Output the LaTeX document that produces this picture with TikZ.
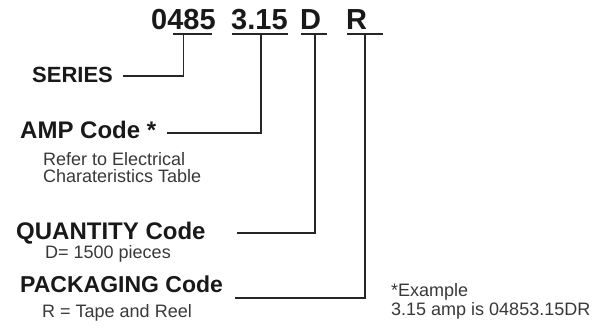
\documentclass[tikz,border=0pt]{standalone}
\usepackage{fontspec}
\setmainfont{Liberation Sans}
\begin{document}
\begin{tikzpicture}[x=1pt,y=-1pt,
  code/.style={font=\fontsize{29}{31}\selectfont\bfseries, inner sep=0pt, anchor=base west, text=black!90},
  head/.style={font=\fontsize{23}{26}\selectfont\bfseries, inner sep=0pt, anchor=base west, text=black!90},
  note/.style={font=\fontsize{18}{18}\selectfont, inner sep=0pt, anchor=base west, text=black!78},
  link/.style={draw=black!85, line width=1.2pt},
]
\useasboundingbox (0,0) rectangle (610,333);
% part number
\node[code] (n0485) at (151,29) {0485};
\node[code] (n315)  at (231,29) {3.15};
\node[code] (nD)    at (300,29) {D};
\node[code] (nR)    at (346,29) {R};
% underlines
\coordinate (u1a) at (173,34);   \coordinate (u1b) at (212,34);   \coordinate (u1) at (183.5,34);
\coordinate (u2a) at (232,34);   \coordinate (u2b) at (288,34);   \coordinate (u2) at (261,34);
\coordinate (u3a) at (301,34);   \coordinate (u3b) at (327,34);   \coordinate (u3) at (315,34);
\coordinate (u4a) at (347,34);   \coordinate (u4b) at (383,34);   \coordinate (u4) at (365,34);
\draw[link] (u1a) -- (u1b);
\draw[link] (u2a) -- (u2b);
\draw[link] (u3a) -- (u3b);
\draw[link] (u4a) -- (u4b);
% labels
\node[head, font=\fontsize{22}{24}\selectfont\bfseries] (series) at (32,82) {SERIES};
\node[head, font=\fontsize{24}{26}\selectfont\bfseries] (amp) at (20,138) {AMP Code *};
\node[note] (refer) at (43,165) {Refer to Electrical};
\node[note] (chart) at (43,182) {Charateristics Table};
\node[head, font=\fontsize{24}{26}\selectfont\bfseries] (qty) at (16,239) {QUANTITY Code};
\node[note] (qtyd) at (45,258) {D= 1500 pieces};
\node[head] (pack) at (20,292) {PACKAGING Code};
\node[note] (packd) at (42,317) {R = Tape and Reel};
\node[note] (ex1) at (391,296) {*Example};
\node[note] (ex2) at (391,315) {3.15 amp is 04853.15DR};
% leader lines
\coordinate (s1) at (123,76);
\coordinate (s2) at (167,133);
\coordinate (s3) at (237,233);
\coordinate (s4) at (235,298);
\draw[link] (s1) -| (u1);
\draw[link] (s2) -| (u2);
\draw[link] (s3) -| (u3);
\draw[link] (s4) -| (u4);
\end{tikzpicture}
\end{document}
